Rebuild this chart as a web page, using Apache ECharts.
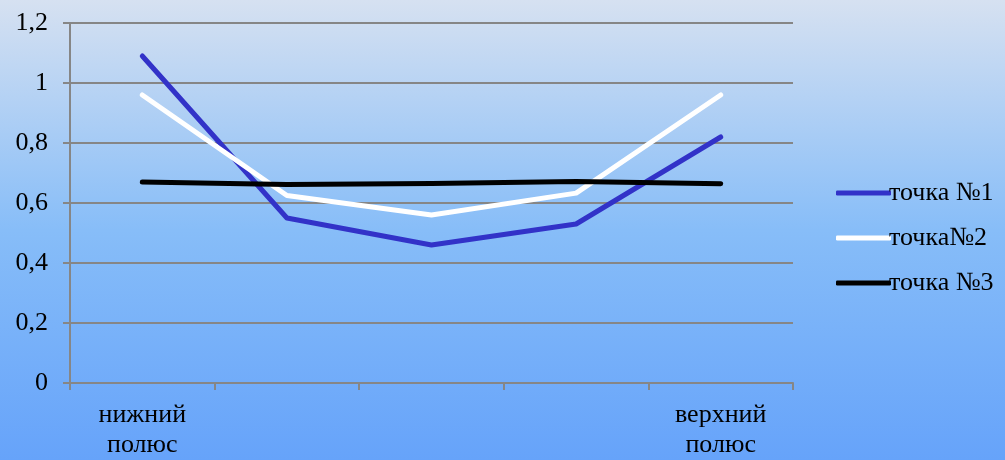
<!DOCTYPE html>
<html>
<head>
<meta charset="utf-8">
<script src="https://cdn.jsdelivr.net/npm/echarts@6/dist/echarts.min.js"></script>
<style>
  html, body { margin: 0; padding: 0; }
  #chart { width: 1005px; height: 460px; }
</style>
</head>
<body>
<div id="chart"></div>
<script>
// Categories along the meridian: only the poles carry labels
const categories = ['нижний\nполюс', '', '', '', 'верхний\nполюс'];
const seriesNames = ['точка №1', 'точка№2', 'точка №3'];
const point1 = [1.09, 0.55, 0.46, 0.53, 0.82];
const point2 = [0.96, 0.625, 0.56, 0.633, 0.96];
const point3 = [0.67, 0.662, 0.665, 0.672, 0.664];
const lineColors = ['#3232c8', '#ffffff', '#000000'];

const chart = echarts.init(document.getElementById('chart'));
const font = 'Liberation Serif, Times New Roman, serif';
const axisGray = '#868686';

function makeSeries(name, data, color) {
  return {
    name: name,
    type: 'line',
    data: data,
    symbol: 'none',
    lineStyle: { color: color, width: 5, cap: 'round', join: 'round' },
    itemStyle: { color: color },
    emphasis: { disabled: true }
  };
}

chart.setOption({
  animation: false,
  backgroundColor: new echarts.graphic.LinearGradient(0, 0, 0, 1, [
    { offset: 0, color: '#d6e1f1' },
    { offset: 0.5, color: '#87bdf8' },
    { offset: 1, color: '#66a3fa' }
  ]),
  textStyle: { fontFamily: font },
  grid: { left: 70, right: 212, top: 23, bottom: 76 },
  xAxis: {
    type: 'category',
    data: categories,
    boundaryGap: true,
    axisLine: { lineStyle: { color: axisGray, width: 2 } },
    axisTick: { show: true, length: 7, lineStyle: { color: axisGray, width: 2 } },
    axisLabel: {
      interval: 0,
      color: '#000',
      fontFamily: font,
      fontSize: 26,
      lineHeight: 30,
      margin: 17
    },
    splitLine: { show: false }
  },
  yAxis: {
    type: 'value',
    min: 0,
    max: 1.2,
    interval: 0.2,
    axisLine: { show: true, lineStyle: { color: axisGray, width: 2 } },
    axisTick: { show: true, length: 7, lineStyle: { color: axisGray, width: 2 } },
    axisLabel: {
      color: '#000',
      fontFamily: font,
      fontSize: 26,
      margin: 22,
      formatter: v => String(Math.round(v * 10) / 10).replace('.', ',')
    },
    splitLine: { show: true, lineStyle: { color: axisGray, width: 2 } }
  },
  legend: {
    orient: 'vertical',
    left: 831,
    top: 175,
    icon: 'roundRect',
    itemWidth: 55,
    itemHeight: 5,
    itemGap: 19,
    data: seriesNames,
    textStyle: { color: '#000', fontFamily: font, fontSize: 26, padding: [0, 0, 0, -7] }
  },
  series: [
    makeSeries(seriesNames[0], point1, lineColors[0]),
    makeSeries(seriesNames[1], point2, lineColors[1]),
    makeSeries(seriesNames[2], point3, lineColors[2])
  ]
});
</script>
</body>
</html>
